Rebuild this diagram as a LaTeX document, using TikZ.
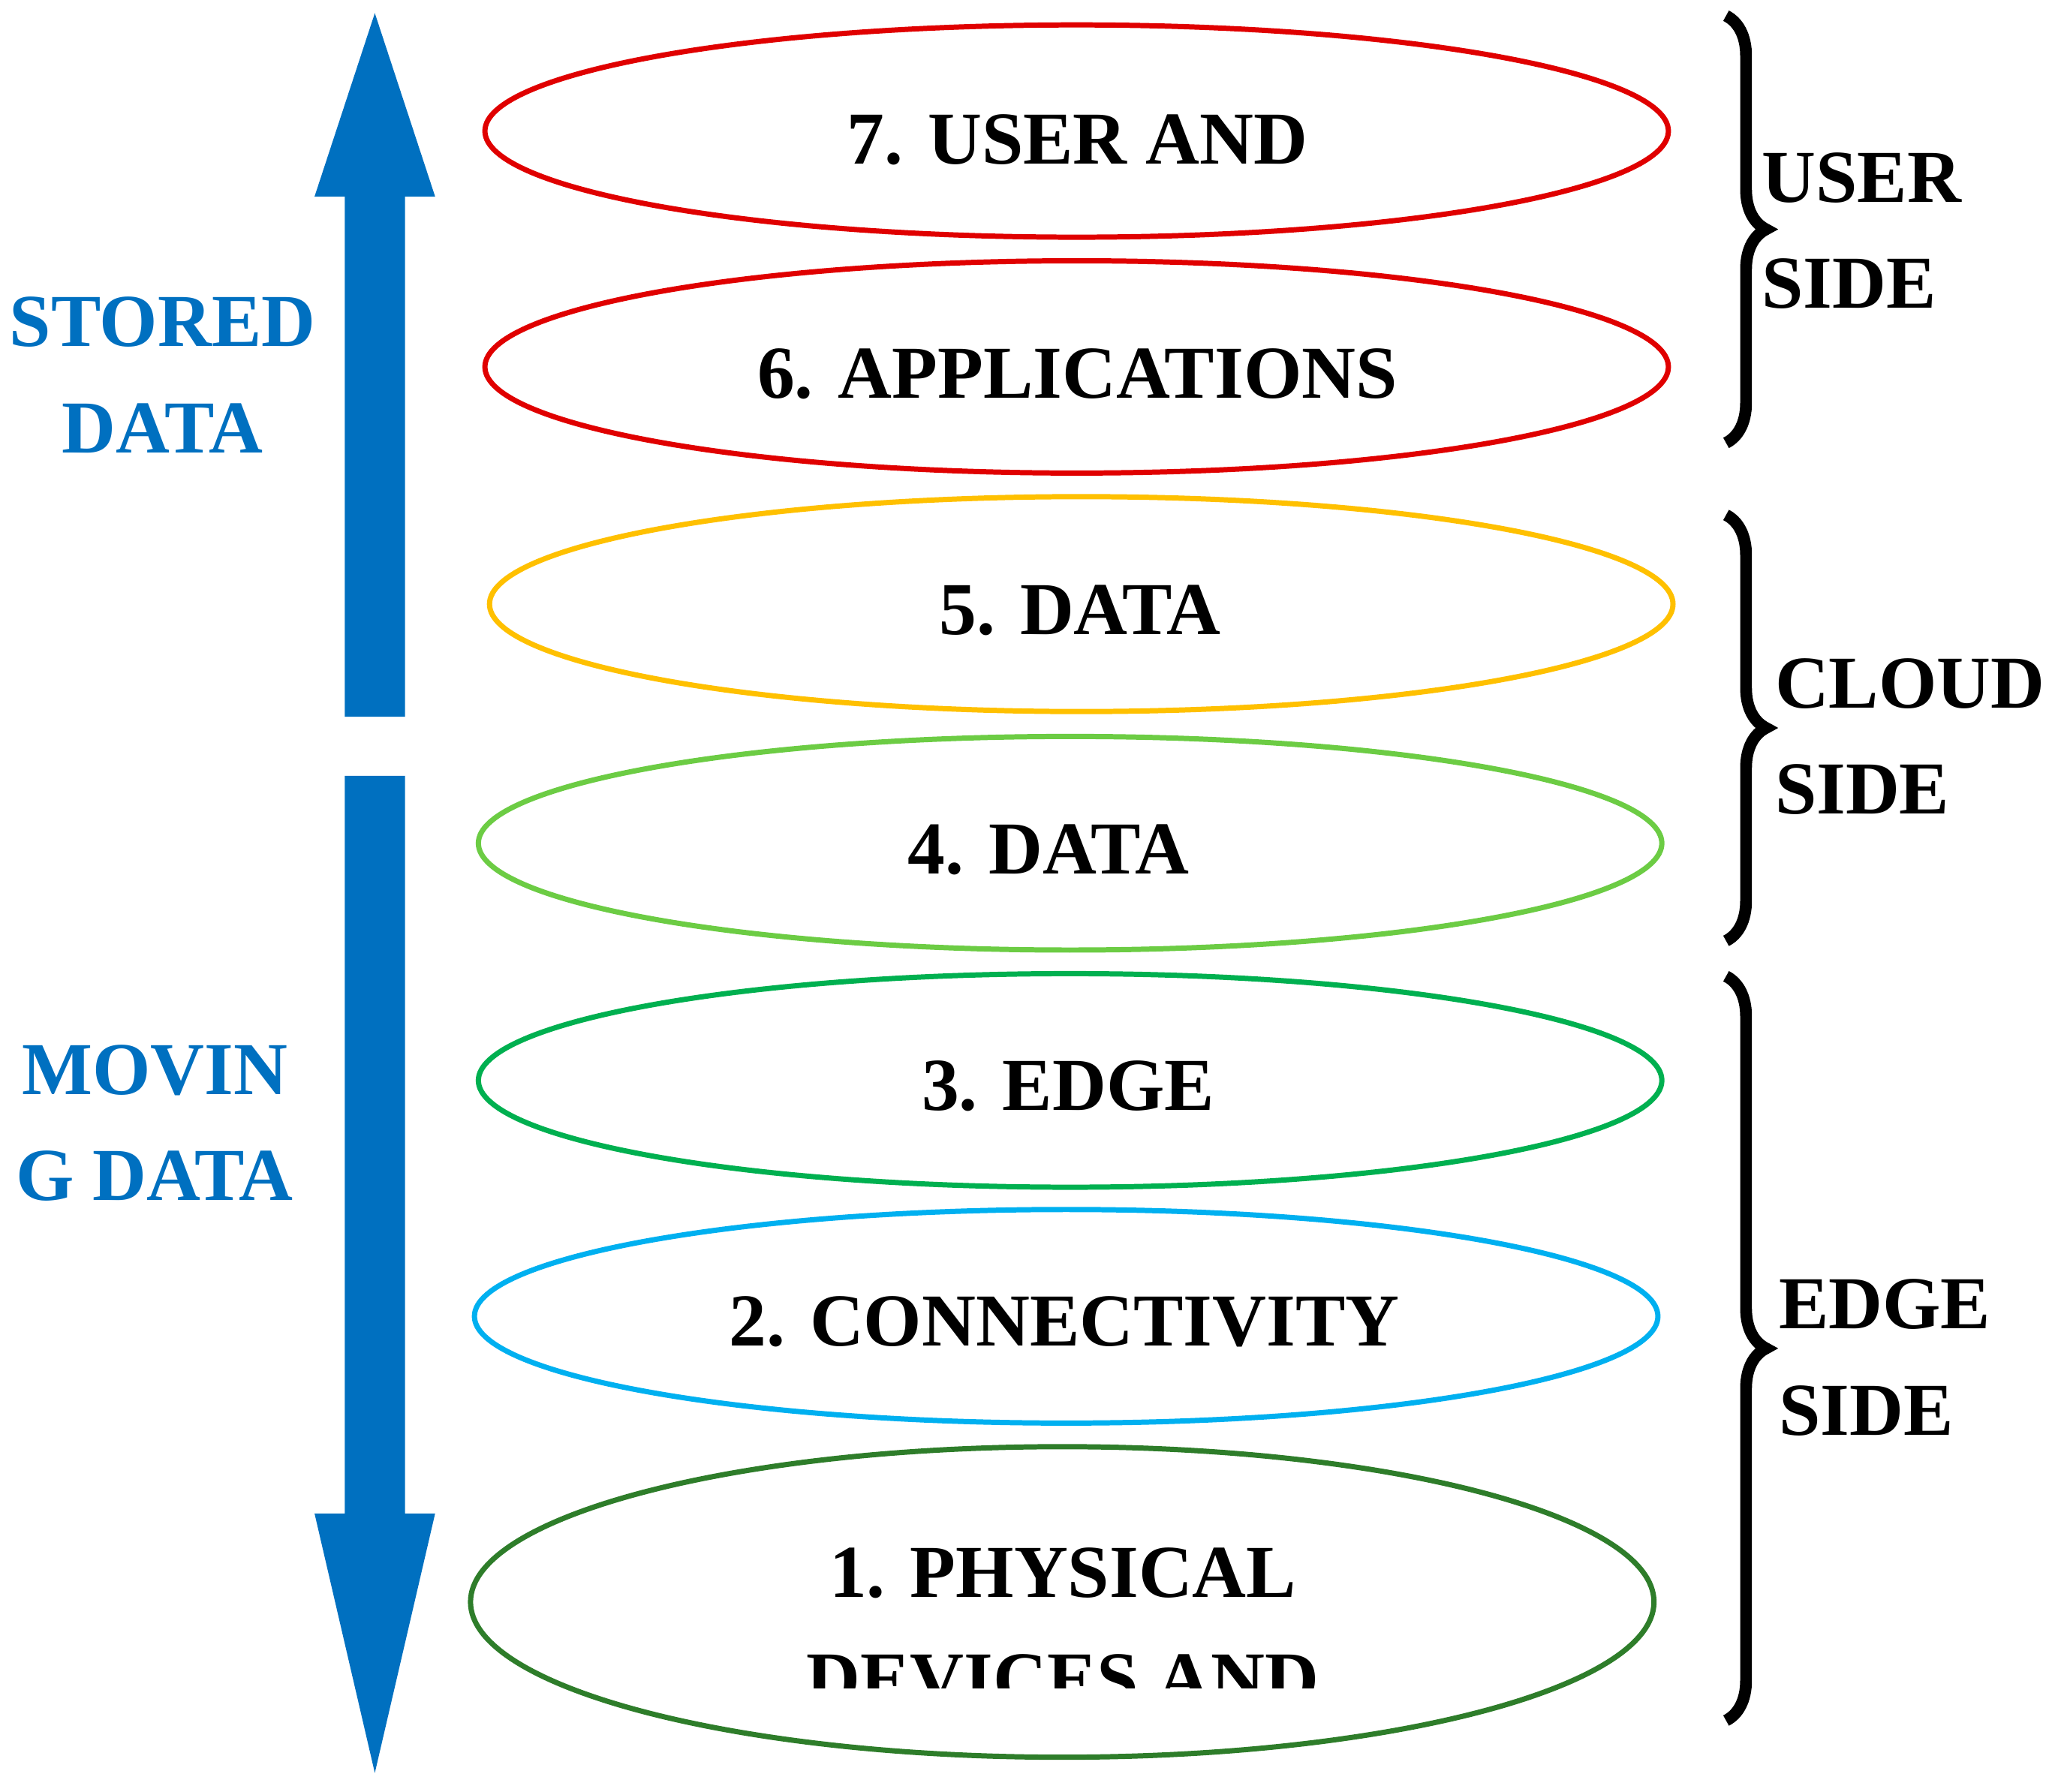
\documentclass[tikz,border=0pt]{standalone}
\usepackage{fontspec}
\setmainfont{Liberation Serif}
\usetikzlibrary{decorations.pathreplacing}
\definecolor{storedblue}{HTML}{0070C0}
\definecolor{userred}{HTML}{E00000}
\definecolor{dataorange}{HTML}{FFC000}
\definecolor{datagreen}{HTML}{6CCC44}
\definecolor{edgegreen}{HTML}{00B050}
\definecolor{linkcyan}{HTML}{00B0F0}
\definecolor{devicegreen}{HTML}{2E7D2A}
\newcommand{\layerfont}{\bfseries\fontsize{28.5}{40.5}\selectfont}
\begin{document}
\begin{tikzpicture}[x=0.5pt, y=-0.5pt,
    layer/.style={line width=2pt},
    layertext/.style={font=\layerfont, inner sep=0pt, anchor=base},
    sidetext/.style={font=\layerfont, align=left, inner sep=0pt, anchor=west},
    flowtext/.style={font=\layerfont, text=storedblue, align=center, inner sep=0pt},
    sidebrace/.style={decorate, decoration={brace, amplitude=15.25pt}, line width=4.5pt},
    flowarrow/.style={fill=storedblue}]
    \useasboundingbox (0,0) rectangle (1568,1367);
    % data flow arrows
    \fill[flowarrow] (263,547) -- (263,150) -- (240,150) -- (286,10) -- (332,150) -- (309,150) -- (309,547) -- cycle;
    \fill[flowarrow] (263,592) -- (263,1155) -- (240,1155) -- (286,1353) -- (332,1155) -- (309,1155) -- (309,592) -- cycle;
    \node[flowtext] (stored) at (124,286) {STORED\\DATA};
    \node[flowtext] (moving) at (118,857) {MOVIN\\G DATA};
    % layers
    \draw[layer, userred] (821.5,100) ellipse [x radius=451.5, y radius=81];
    \draw[layer, userred] (821.5,280) ellipse [x radius=451.5, y radius=81];
    \draw[layer, dataorange] (825,461) ellipse [x radius=451.5, y radius=82];
    \draw[layer, datagreen] (816.5,643.5) ellipse [x radius=451.5, y radius=81.5];
    \draw[layer, edgegreen] (816.5,824.5) ellipse [x radius=451.5, y radius=81.5];
    \draw[layer, linkcyan] (813.5,1004.5) ellipse [x radius=451.5, y radius=81.5];
    \draw[layer, devicegreen] (810.5,1222.5) ellipse [x radius=451.5, y radius=118.5];
    \node[layertext] (userapp) at (822,125) {7. USER AND};
    \node[layertext] (apps) at (822,304) {6. APPLICATIONS};
    \node[layertext] (dataabs) at (824,484) {5. DATA};
    \node[layertext] (dataacc) at (800,667) {4. DATA};
    \node[layertext] (edge) at (815,847) {3. EDGE};
    \node[layertext] (connect) at (812,1027) {2. CONNECTIVITY};
    \begin{scope}
        \clip (340,1100) rectangle (1280,1288);
        \node[layertext, align=center, anchor=north] (devices) at (811,1181) {1. PHYSICAL\\DEVICES AND};
    \end{scope}
    % sides
    \draw[sidebrace] (1317,12) -- (1317,338);
    \draw[sidebrace] (1317,393) -- (1317,718);
    \draw[sidebrace] (1317,745) -- (1317,1313);
    \node[sidetext] (userside) at (1344,176) {USER\\SIDE};
    \node[sidetext] (cloudside) at (1354,562) {CLOUD\\SIDE};
    \node[sidetext] (edgeside) at (1357,1036) {EDGE\\SIDE};
\end{tikzpicture}
\end{document}
